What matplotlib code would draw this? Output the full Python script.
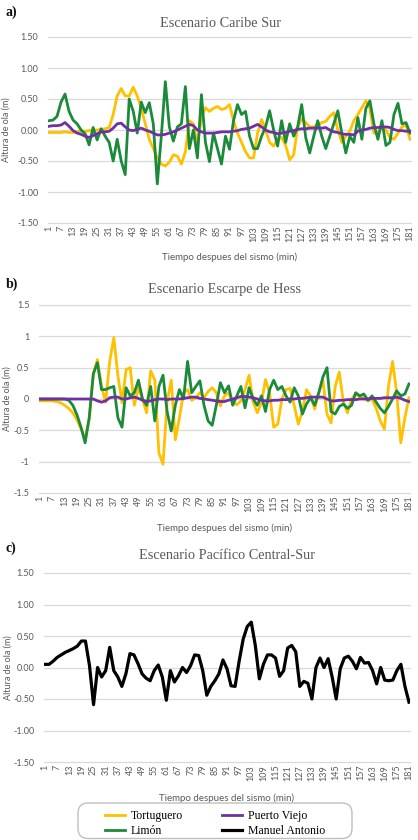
import matplotlib
matplotlib.use("Agg")
import matplotlib.pyplot as plt
from matplotlib.patches import FancyBboxPatch

plt.rcParams['font.family'] = ['Lato', 'DejaVu Sans']

# ---------------- data ----------------
minutes = list(range(1, 182, 2))

xtick_pos = [1, 7, 13, 19, 25, 31, 37, 43, 49, 55, 61, 67, 73, 79, 85, 91, 97, 103,
             109, 115, 121, 127, 133, 139, 145, 151, 157, 163, 169, 175, 181]
xtick_labels = ["1", "7", "13", "19", "25", "31", "37", "43", "49", "55", "61", "67",
                "73", "79", "85", "91", "97", "103", "109", "115", "121", "127", "133",
                "139", "145", "151", "157", "163", "169", "175", "181"]
yticks = [-1.5, -1.0, -0.5, 0.0, 0.5, 1.0, 1.5]
ytick_labels_2dp = ["-1.50", "-1.00", "-0.50", "0.00", "0.50", "1.00", "1.50"]
ytick_labels_b = ["-1.5", "-1", "-0.5", "0", "0.5", "1", "1.5"]

series_names = ["Tortuguero", "Limón", "Puerto Viejo", "Manuel Antonio"]
titles = ["Escenario Caribe Sur", "Escenario Escarpe de Hess", "Escenario Pacífico Central-Sur"]
xlabel = "Tiempo despues del sismo (min)"
ylabel = "Altura de ola (m)"

# Panel a: Escenario Caribe Sur
tortuguero_a = [-0.04, -0.04, -0.04, -0.04, -0.03,
                -0.04, -0.04, -0.03, -0.02, -0.02,
                -0.01, 0.00, 0.00, 0.01, 0.02,
                0.04, 0.25, 0.55, 0.67, 0.55,
                0.55, 0.69, 0.55, 0.35, 0.10,
                -0.15, -0.30, -0.45, -0.55, -0.58,
                -0.52, -0.40, -0.42, -0.55, -0.35,
                0.15, 0.10, -0.25, 0.20, 0.36,
                0.30, 0.35, 0.38, 0.33, 0.35,
                0.41, 0.15, -0.05, -0.20, -0.35,
                -0.45, -0.45, -0.05, 0.17, 0.00,
                -0.20, -0.26, -0.15, -0.12, -0.25,
                -0.48, -0.40, 0.05, 0.18, 0.12,
                0.05, 0.05, 0.08, 0.12, 0.14,
                0.22, 0.28, 0.00, -0.20, -0.10,
                -0.02, 0.15, 0.25, 0.36, 0.47,
                0.35, -0.05, -0.05, 0.05, 0.00,
                -0.12, -0.15, -0.05, 0.05, 0.08,
                -0.15]
limon_a = [0.15, 0.16, 0.22, 0.45, 0.58,
           0.30, 0.16, 0.10, 0.00, -0.06,
           -0.24, 0.04, -0.16, 0.02, -0.10,
           -0.20, -0.50, -0.15, -0.50, -0.72,
           0.50, 0.30, -0.05, 0.45, 0.28,
           0.44, 0.10, -0.87, -0.10, 0.78,
           0.05, -0.18, 0.05, 0.10, 0.70,
           -0.30, 0.00, -0.45, 0.57, -0.20,
           -0.51, -0.05, -0.30, -0.55, -0.10,
           -0.31, 0.15, 0.41, 0.25, 0.30,
           -0.10, -0.30, -0.30, -0.10, 0.05,
           0.31, 0.00, -0.26, 0.15, -0.20,
           0.10, -0.10, 0.05, 0.41, -0.12,
           -0.37, -0.10, 0.15, -0.10, -0.30,
           -0.10, 0.10, 0.31, -0.05, -0.37,
           -0.10, -0.20, 0.20, -0.15, 0.35,
           0.47, 0.10, -0.15, 0.15, -0.25,
           -0.20, 0.25, 0.43, 0.10, 0.12,
           -0.05]
puerto_a = [0.06, 0.07, 0.07, 0.08, 0.12,
            0.06, -0.01, -0.05, -0.07, -0.10,
            -0.12, -0.09, -0.06, -0.03, -0.03,
            -0.02, 0.03, 0.10, 0.11, 0.05,
            0.00, -0.01, 0.01, 0.03, 0.00,
            -0.02, -0.05, -0.08, -0.08, -0.07,
            -0.05, -0.03, 0.00, 0.03, 0.06,
            0.09, 0.07, 0.00, -0.03, -0.05,
            -0.05, -0.05, -0.04, -0.03, -0.03,
            -0.03, -0.02, -0.01, 0.01, 0.02,
            0.03, 0.06, 0.09, 0.05, 0.00,
            -0.03, -0.04, -0.06, -0.05, -0.04,
            -0.02, -0.01, 0.01, 0.02, 0.02,
            0.03, 0.03, 0.03, 0.03, 0.04,
            0.00, -0.03, -0.04, -0.06, -0.07,
            -0.07, -0.08, -0.02, 0.00, 0.01,
            0.03, 0.04, 0.04, 0.05, 0.05,
            0.04, 0.01, -0.01, -0.01, -0.02,
            -0.02]

# Panel b: Escenario Escarpe de Hess
tortuguero_b = [-0.03, -0.03, -0.03, -0.03, -0.04,
                -0.06, -0.10, -0.15, -0.22, -0.33,
                -0.48, -0.62, -0.32, 0.40, 0.63,
                0.20, -0.05, 0.60, 0.98, 0.37,
                -0.06, 0.47, 0.50, -0.10, 0.18,
                0.00, -0.22, 0.45, 0.30, -0.86,
                -1.04, -0.05, 0.30, -0.65, -0.30,
                0.10, 0.15, -0.02, 0.02, 0.10,
                0.02, 0.12, 0.18, 0.10, -0.11,
                0.05, 0.10, -0.06, -0.09, -0.03,
                0.15, 0.38, -0.05, -0.22, -0.06,
                0.31, 0.10, -0.45, -0.40, 0.00,
                0.15, 0.17, -0.10, -0.40, -0.20,
                0.15, 0.05, -0.16, 0.10, 0.30,
                -0.24, -0.38, 0.20, 0.43, -0.05,
                -0.22, 0.00, 0.08, 0.03, 0.02,
                -0.03, 0.00, -0.15, -0.35, -0.48,
                0.20, 0.60, 0.10, -0.70, -0.30,
                0.02]
limon_b = [0.00, 0.00, 0.00, 0.00, 0.00,
           0.00, 0.00, -0.02, -0.10, -0.25,
           -0.45, -0.70, -0.30, 0.40, 0.58,
           0.15, 0.15, 0.18, 0.20, -0.30,
           -0.45, 0.18, 0.05, 0.10, 0.30,
           0.00, -0.10, 0.20, -0.35, 0.20,
           0.38, -0.20, -0.51, -0.10, 0.15,
           0.00, 0.60, 0.10, 0.20, 0.29,
           -0.10, -0.35, -0.42, -0.10, 0.26,
           0.10, 0.21, -0.10, 0.05, 0.20,
           -0.14, 0.18, 0.00, -0.10, 0.05,
           -0.20, 0.15, 0.30, 0.15, 0.20,
           0.05, -0.05, 0.18, 0.05, -0.24,
           -0.08, 0.02, -0.10, 0.10, 0.35,
           0.50, -0.20, -0.24, -0.12, -0.08,
           -0.15, -0.10, 0.10, 0.05, 0.08,
           -0.02, 0.05, -0.05, -0.15, -0.22,
           -0.12, 0.00, 0.13, 0.05, 0.08,
           0.24]
puerto_b = [0.00, 0.00, 0.00, 0.00, 0.00,
            0.00, 0.00, 0.00, 0.00, 0.00,
            0.00, 0.00, 0.00, 0.00, -0.03,
            -0.05, -0.03, 0.02, 0.03, 0.03,
            0.00, 0.00, 0.02, 0.03, 0.01,
            -0.02, -0.04, -0.03, -0.01, 0.00,
            0.00, -0.01, 0.00, 0.00, 0.00,
            0.01, 0.02, 0.03, 0.03, 0.01,
            0.00, -0.01, -0.02, -0.03, -0.04,
            -0.04, -0.02, 0.00, 0.02, 0.04,
            0.04, 0.03, 0.02, 0.00, -0.02,
            -0.03, -0.03, -0.02, -0.02, -0.01,
            -0.01, 0.00, 0.00, 0.01, 0.01,
            0.02, 0.03, 0.03, 0.03, 0.03,
            0.00, -0.03, -0.03, -0.02, -0.02,
            -0.01, -0.01, -0.01, 0.00, 0.00,
            0.00, 0.01, 0.01, 0.01, 0.02,
            0.02, 0.02, 0.03, 0.01, -0.02,
            -0.04]

# Panel c: Escenario Pacifico Central-Sur
manuel_c = [0.05, 0.05, 0.10, 0.16, 0.20,
            0.24, 0.27, 0.30, 0.34, 0.42,
            0.42, 0.03, -0.59, 0.00, -0.15,
            -0.05, 0.32, -0.05, -0.15, -0.30,
            -0.10, 0.22, 0.20, 0.06, -0.10,
            -0.17, -0.21, -0.05, 0.04, -0.15,
            -0.52, -0.05, -0.23, -0.13, 0.00,
            -0.08, 0.03, 0.20, 0.19, -0.05,
            -0.44, -0.30, -0.21, -0.10, 0.12,
            -0.02, -0.29, -0.30, 0.10, 0.45,
            0.65, 0.72, 0.35, -0.18, 0.05,
            0.20, 0.20, 0.15, -0.14, -0.05,
            0.31, 0.35, 0.25, -0.30, -0.22,
            -0.25, -0.50, 0.00, 0.15, 0.00,
            0.14, -0.15, -0.50, -0.02, 0.15,
            0.18, 0.10, -0.02, 0.16, 0.07,
            0.08, -0.05, -0.26, 0.00, -0.20,
            -0.21, -0.20, -0.05, 0.05, -0.30,
            -0.55]

colors = {"Tortuguero": "#FFC000", "Limón": "#1B8B3B",
          "Puerto Viejo": "#7030A0", "Manuel Antonio": "#000000"}

# ---------------- figure ----------------
W, H = 418, 840
fig = plt.figure(figsize=(W / 100, H / 100), dpi=100)
GRAY = "#595959"
SERIF = "Liberation Serif"


def rect(l, r, t, b):
    return [l / W, 1 - b / H, (r - l) / W, (b - t) / H]


def style(ax, ylabels, ylab_x, xlab_y, title, title_x, title_y):
    ax.set_xlim(0.5, 181.5)
    ax.set_ylim(-1.5, 1.5)
    ax.set_yticks(yticks)
    ax.set_yticklabels(ylabels)
    ax.set_xticks(xtick_pos)
    ax.set_xticklabels(xtick_labels, rotation=90)
    for s in ax.spines.values():
        s.set_visible(False)
    ax.grid(axis='y', color='#D9D9D9', lw=0.9)
    ax.set_axisbelow(True)
    for gl in ax.get_ygridlines():
        gl.set_clip_on(False)
    ax.tick_params(length=0, labelsize=6.5, labelcolor=GRAY)
    ax.tick_params(axis='y', pad=7)
    ax.tick_params(axis='x', pad=2)
    ax.set_ylabel(ylabel, fontsize=6.5, color=GRAY)
    ax.yaxis.set_label_coords(ylab_x, 0.5)
    ax.set_xlabel(xlabel, fontsize=7, color=GRAY)
    ax.xaxis.set_label_coords(0.5, xlab_y)
    ax.text(title_x, title_y, title, transform=ax.transAxes, ha='center', va='center',
            fontsize=10.3, color=GRAY, family=SERIF)


LW = 2.0
# Panel a
ax_a = fig.add_axes(rect(48, 411, 37, 223))
la_t, = ax_a.plot(minutes, tortuguero_a, color=colors["Tortuguero"], lw=LW, zorder=2)
la_l, = ax_a.plot(minutes, limon_a, color=colors["Limón"], lw=LW, zorder=3)
la_p, = ax_a.plot(minutes, puerto_a, color=colors["Puerto Viejo"], lw=LW, zorder=4)
style(ax_a, ytick_labels_2dp, -0.102, -0.161, titles[0], 0.474, 1.075)

# Panel b
ax_b = fig.add_axes(rect(39, 410, 305, 493))
ax_b.plot(minutes, tortuguero_b, color=colors["Tortuguero"], lw=LW, zorder=2)
ax_b.plot(minutes, limon_b, color=colors["Limón"], lw=LW, zorder=3)
ax_b.plot(minutes, puerto_b, color=colors["Puerto Viejo"], lw=LW, zorder=4)
style(ax_b, ytick_labels_b, -0.073, -0.16, titles[1], 0.499, 1.085)

# Panel c
ax_c = fig.add_axes(rect(44, 410, 573, 762))
lc_m, = ax_c.plot(minutes, manuel_c, color=colors["Manuel Antonio"], lw=LW + 0.3, zorder=4)
style(ax_c, ytick_labels_2dp, -0.087, -0.169, titles[2], 0.5, 1.095)

# panel letters
for lab, ypx in (("a)", 12), ("b)", 284), ("c)", 548)):
    fig.text(6 / W, 1 - ypx / H, lab, fontsize=10, fontweight='bold', family=SERIF,
             va='center', ha='left', color='#111111')

# legend frame
box = FancyBboxPatch((0.78, 0.015), 2.74, 0.355,
                     boxstyle="round,pad=0,rounding_size=0.1",
                     transform=fig.dpi_scale_trans, fc='white', ec='#BFBFBF', lw=1.0)
fig.patches.append(box)

handles = [la_t, la_l, la_p, lc_m]
fig.legend(handles, series_names, ncol=2, frameon=False, loc='center',
           bbox_to_anchor=(0.514, 1 - 823.5 / H),
           prop={'family': SERIF, 'size': 8.5},
           handlelength=1.7, handletextpad=0.5, columnspacing=3.3, labelspacing=0.2)

fig.savefig("out.png", dpi=100)
